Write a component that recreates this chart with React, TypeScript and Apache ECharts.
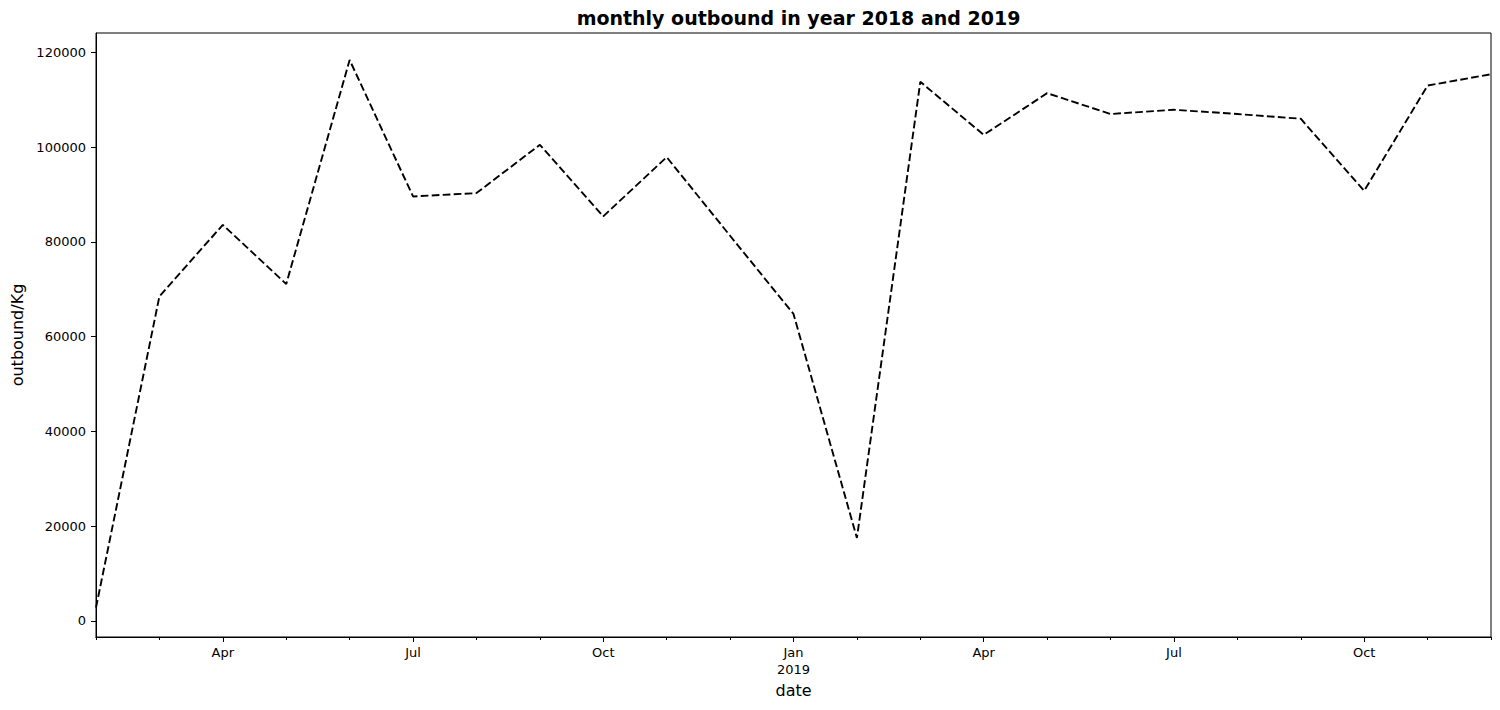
import React, { useEffect, useRef } from "react";
import * as echarts from "echarts";

const months = [
  "2018-02", "2018-03", "2018-04", "2018-05", "2018-06", "2018-07", "2018-08",
  "2018-09", "2018-10", "2018-11", "2018-12", "2019-01", "2019-02", "2019-03",
  "2019-04", "2019-05", "2019-06", "2019-07", "2019-08", "2019-09", "2019-10",
  "2019-11", "2019-12",
];

const xTickLabels = [
  "", "", "Apr", "", "", "Jul", "", "", "Oct", "", "", "Jan\n2019", "", "",
  "Apr", "", "", "Jul", "", "", "Oct", "", "",
];

const outbound = [
  2800, 68500, 83600, 71100, 118400, 89600, 90300,
  100500, 85400, 97900, 81300, 64800, 17500, 113800,
  102600, 111400, 107000, 107900, 107000, 106000, 90800,
  113000, 115400,
];

const yTicks = [0, 20000, 40000, 60000, 80000, 100000, 120000];

const FONT = "DejaVu Sans";

export default function App() {
  const ref = useRef<HTMLDivElement>(null);

  useEffect(() => {
    if (!ref.current) return;
    const chart = echarts.init(ref.current, undefined, { renderer: "svg" });
    const isMajor = (idx: number) => xTickLabels[idx] !== "";
    chart.setOption({
      animation: false,
      backgroundColor: "#fff",
      title: {
        text: "monthly outbound in year 2018 and 2019",
        left: 793.5,
        textAlign: "center",
        top: 3,
        textStyle: { fontFamily: FONT, fontSize: 19, fontWeight: "bold", color: "#000" },
      },
      grid: {
        left: 96,
        right: 9,
        top: 33,
        bottom: 73,
        show: true,
        borderColor: "#000",
        borderWidth: 1,
        backgroundColor: "transparent",
      },
      xAxis: [
        {
          type: "category",
          data: months,
          boundaryGap: false,
          axisLine: { show: true, onZero: false, lineStyle: { color: "#000", width: 1 } },
          axisTick: { show: true, interval: 0, length: 3, lineStyle: { color: "#000", width: 1 } },
          axisLabel: { show: false },
          splitLine: { show: false },
        },
        {
          type: "category",
          data: months,
          boundaryGap: false,
          position: "bottom",
          name: "date",
          nameLocation: "middle",
          nameGap: 45,
          nameTextStyle: { fontFamily: FONT, fontSize: 16, color: "#000" },
          axisLine: { show: true, onZero: false, lineStyle: { color: "#000", width: 1 } },
          axisTick: {
            show: true,
            interval: (idx: number) => isMajor(idx),
            length: 5,
            lineStyle: { color: "#000", width: 1 },
          },
          axisLabel: {
            show: true,
            interval: (idx: number) => isMajor(idx),
            formatter: (_v: string, idx: number) => xTickLabels[idx],
            fontFamily: FONT,
            fontSize: 13,
            color: "#000",
            margin: 7,
            lineHeight: 17,
          },
          splitLine: { show: false },
        },
      ],
      yAxis: {
        type: "value",
        min: -3400,
        max: 124100,
        name: "outbound/Kg",
        nameLocation: "middle",
        nameGap: 65,
        nameRotate: 90,
        nameTextStyle: { fontFamily: FONT, fontSize: 16, color: "#000" },
        axisLine: { show: true, lineStyle: { color: "#000", width: 1 } },
        axisTick: { show: true, length: 5, customValues: yTicks, lineStyle: { color: "#000", width: 1 } },
        axisLabel: {
          customValues: yTicks,
          formatter: (v: number) => String(v),
          fontFamily: FONT,
          fontSize: 13,
          color: "#000",
          margin: 10,
        },
        splitLine: { show: false },
      },
      series: [
        {
          type: "line",
          xAxisIndex: 0,
          data: outbound,
          symbol: "none",
          lineStyle: { color: "#000", width: 1.9, type: [7.7, 3.3] },
        },
      ],
    });
    return () => chart.dispose();
  }, []);

  return (
    <div
      ref={ref}
      style={{ position: "fixed", left: 0, top: 0, width: 1500, height: 710 }}
    />
  );
}
